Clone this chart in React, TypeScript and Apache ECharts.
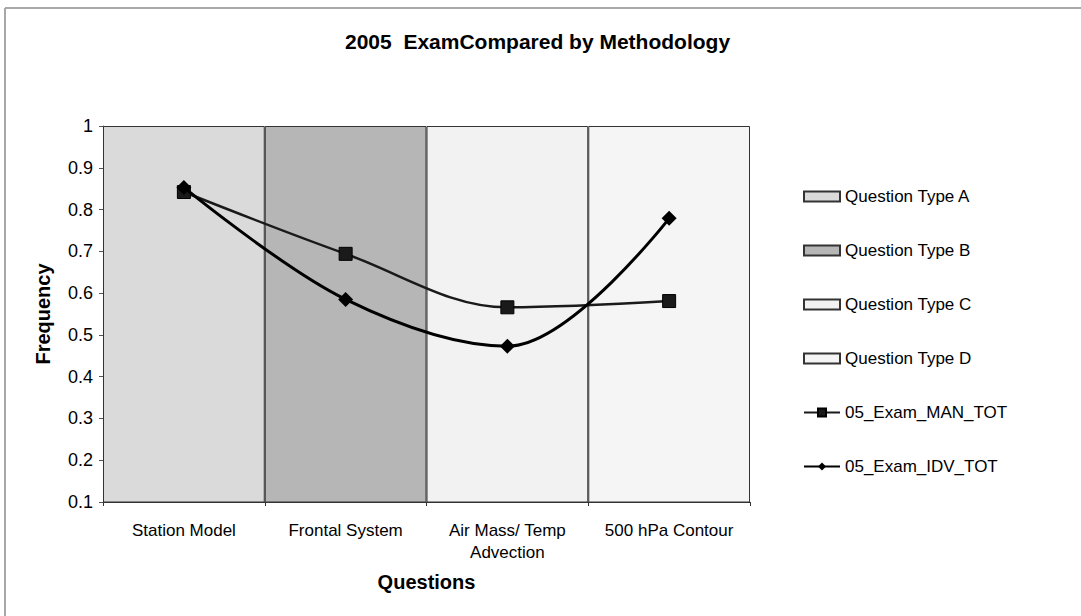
import React, { useEffect, useRef } from "react";
import * as echarts from "echarts";

const categories = ["Station Model", "Frontal System", "Air Mass/ Temp\nAdvection", "500 hPa Contour"];
const bandNames = ["Question Type A", "Question Type B", "Question Type C", "Question Type D"];
const bandColors = ["#dadada", "#b6b6b6", "#f2f2f2", "#f5f5f5"];
const bandValue = 1;
const manTot = [0.842, 0.694, 0.566, 0.581];
const idvTot = [0.853, 0.585, 0.473, 0.779];

export default function App() {
  const ref = useRef<HTMLDivElement>(null);
  useEffect(() => {
    if (!ref.current) return;
    const chart = echarts.init(ref.current, null, { renderer: "svg" });
    const font = "Arial, 'Liberation Sans', sans-serif";
    const bandSeries = bandNames.map((name, i) => ({
      name,
      type: "bar",
      barWidth: "100%",
      barGap: "-100%",
      data: categories.map((_, j) => (j === i ? bandValue : "-")),
      itemStyle: { color: bandColors[i], borderColor: "#333", borderWidth: 1 },
      z: 1,
    }));
    chart.setOption({
      animation: false,
      backgroundColor: "#ffffff",
      textStyle: { fontFamily: font },
      title: {
        text: "2005  ExamCompared by Methodology",
        left: 345,
        top: 31,
        padding: 0,
        textStyle: { fontSize: 21, fontWeight: "bold", color: "#000", fontFamily: font },
      },
      grid: { left: 103, right: 331, top: 126, bottom: 114, containLabel: false },
      legend: {
        orient: "vertical",
        left: 803,
        top: 188,
        itemWidth: 36,
        itemHeight: 10,
        itemGap: 37,
        padding: 0,
        textStyle: { fontSize: 17, color: "#000", lineHeight: 17, fontFamily: font },
        data: [
          ...bandNames.map((n) => ({ name: n, icon: "rect" })),
          "05_Exam_MAN_TOT",
          "05_Exam_IDV_TOT",
        ],
      },
      xAxis: {
        type: "category",
        data: categories,
        boundaryGap: true,
        axisLine: { lineStyle: { color: "#333", width: 1 } },
        axisTick: { show: true, length: 4, lineStyle: { color: "#333" } },
        axisLabel: { fontSize: 17, color: "#000", margin: 17, lineHeight: 22, interval: 0, fontFamily: font },
        name: "Questions",
        nameLocation: "middle",
        nameGap: 70,
        nameTextStyle: { fontSize: 20, fontWeight: "bold", color: "#000", fontFamily: font },
      },
      yAxis: {
        type: "value",
        min: 0.1,
        max: 1,
        interval: 0.1,
        splitLine: { show: false },
        axisLine: { show: true, lineStyle: { color: "#555", width: 1 } },
        axisTick: { show: true, length: 4, lineStyle: { color: "#555" } },
        axisLabel: {
          fontSize: 18,
          color: "#000",
          margin: 10,
          fontFamily: font,
          formatter: (v: number) => String(Math.round(v * 10) / 10),
        },
        name: "Frequency",
        nameLocation: "middle",
        nameGap: 50,
        nameRotate: 90,
        nameTextStyle: { fontSize: 20, fontWeight: "bold", color: "#000", fontFamily: font },
      },
      graphic: [
        { type: "line", shape: { x1: 5, y1: 8, x2: 1081, y2: 8 }, style: { stroke: "#a8a8a8", lineWidth: 2 } },
        { type: "line", shape: { x1: 5, y1: 8, x2: 5, y2: 616 }, style: { stroke: "#a8a8a8", lineWidth: 2 } },
      ],
      series: [
        ...bandSeries,
        {
          name: "05_Exam_MAN_TOT",
          type: "line",
          data: manTot,
          smooth: 0.35,
          symbol: "rect",
          symbolSize: 13,
          lineStyle: { color: "#1a1a1a", width: 2.5 },
          itemStyle: { color: "#1a1a1a", borderColor: "#000", borderWidth: 1 },
          z: 5,
        },
        {
          name: "05_Exam_IDV_TOT",
          type: "line",
          data: idvTot,
          smooth: 0.35,
          symbol: "diamond",
          symbolSize: 15,
          lineStyle: { color: "#000", width: 3 },
          itemStyle: { color: "#000" },
          z: 6,
        },
      ],
    });
    return () => chart.dispose();
  }, []);
  return (
    <div
      ref={ref}
      style={{ position: "fixed", left: 0, top: 0, width: 1081, height: 616 }}
    />
  );
}
